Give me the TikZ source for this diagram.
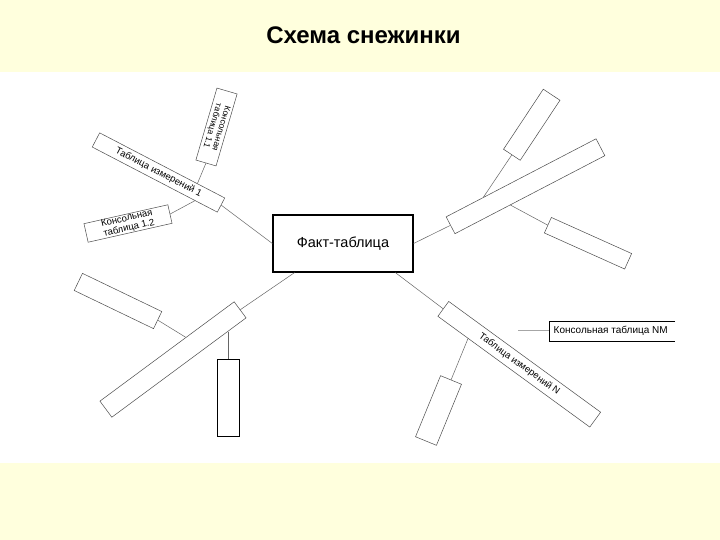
\documentclass[tikz,border=0pt]{standalone}
\usepackage{fontspec}
\setmainfont{Liberation Sans}
\usetikzlibrary{calc}
\definecolor{bgyellow}{RGB}{255,255,221}
\tikzset{
  dimbox/.style={draw=black!70, line width=0.5pt, inner sep=0pt, font=\fontsize{9.5}{10}\selectfont},
  outbox/.style={draw=black!70, line width=0.5pt, inner sep=0pt, align=center, font=\fontsize{8.5}{9}\selectfont},
  solidbox/.style={draw=black, line width=0.9pt, inner sep=0pt},
  link/.style={draw=black!60, line width=0.5pt},
}
\begin{document}
\begin{tikzpicture}[x=1pt,y=-1pt]
\useasboundingbox (0,0) rectangle (720,540);
\fill[bgyellow] (0,0) rectangle (720,540);
\fill[white] (0,72) rectangle (720,463);
\node[font=\bfseries\fontsize{24}{28}\selectfont] (title) at (363.5,35.5) {Схема снежинки};
% fact table
\node[solidbox, line width=1.2pt, minimum width=140pt, minimum height=57pt, font=\fontsize{14.5}{16}\selectfont] (F) at (343,243.5) {Факт-таблица};
% group 1 (upper left)
\node[dimbox, rotate=-27.5, minimum width=141pt, minimum height=16pt] (D1) at (158.5,172.5) {Таблица измерений 1};
\node[outbox, rotate=-106.3, minimum width=75pt, minimum height=21pt] (O11) at (216.5,127) {Консольная\\таблица 1.1};
\node[outbox, rotate=12.7, minimum width=86pt, minimum height=19pt, font=\fontsize{9.5}{10}\selectfont] (O12) at (128,223.5) {Консольная\\таблица 1.2};
% group 2 (upper right)
\node[dimbox, rotate=27.5, minimum width=169pt, minimum height=19pt] (DTR) at (525.5,186.25) {};
\node[outbox, rotate=56.5, minimum width=72pt, minimum height=20pt] (OTR1) at (531.75,124.75) {};
\node[outbox, rotate=-24.2, minimum width=88pt, minimum height=17pt] (OTR2) at (588,243.25) {};
% group 3 (lower left)
\node[dimbox, rotate=36.5, minimum width=167pt, minimum height=20pt] (DBL) at (173,359.5) {};
\node[outbox, rotate=-25.7, minimum width=88pt, minimum height=19pt] (OBL1) at (118,301) {};
\node[solidbox, minimum width=22pt, minimum height=77pt] (OBL2) at (228,397.5) {};
% group 4 (lower right)
\node[dimbox, rotate=-36.1, minimum width=188pt, minimum height=18.4pt] (DN) at (519.25,364.25) {Таблица измерений N};
\node[outbox, rotate=67.7, minimum width=66pt, minimum height=22.6pt] (ON2) at (438.5,410.5) {};
\node[anchor=west, inner sep=0pt, font=\fontsize{10}{11}\selectfont] (NM) at (553.5,331) {Консольная таблица NM};
\draw[black, line width=0.9pt] (675,321) -- (549,321) -- (549,341) -- (675,341);
\coordinate (NMl) at (549,330);
\coordinate (NMc) at (518,330);
% connectors
\draw[link] (F.west) -- (D1.east);
\draw[link] (O11.east) -- ($(D1.north west)!0.78!(D1.north east)$);
\draw[link] (O12.east) -- ($(D1.south west)!0.82!(D1.south east)$);
\draw[link] (F.east) -- (DTR.west);
\draw[link] (OTR1.west) -- ($(DTR.north west)!0.25!(DTR.north east)$);
\draw[link] ($(DTR.south west)!0.37!(DTR.south east)$) -- (OTR2.west);
\draw[link] ($(F.south west)!0.157!(F.south east)$) -- (DBL.east);
\draw[link] (OBL1.east) -- ($(DBL.north west)!0.64!(DBL.north east)$);
\coordinate (DBLs) at ($(DBL.south west)!0.858!(DBL.south east)$);
\draw[link] (OBL2.north) -- (OBL2.north |- DBLs);
\draw[link] ($(F.south west)!0.871!(F.south east)$) -- (DN.west);
\draw[link] ($(DN.south west)!0.2!(DN.south east)$) -- (ON2.east);
\draw[link, draw=black!35] (NMc) -- (NMl);
\end{tikzpicture}
\end{document}
